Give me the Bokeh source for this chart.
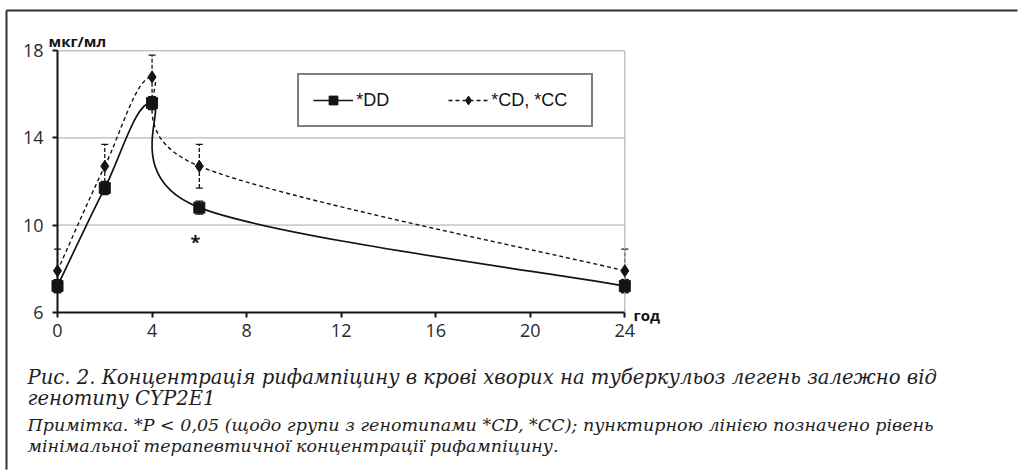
import numpy as np
from bokeh.plotting import figure
from bokeh.models import (Range1d, FixedTicker, Label, Legend, LegendItem, Whisker,
                          ColumnDataSource, TeeHead)
from bokeh.core.properties import value
from bokeh.embed import file_html
from bokeh.resources import INLINE

# ---------------- data ----------------
hours = [0, 2, 4, 6, 24]
dd_mean = [7.2, 11.7, 15.6, 10.8, 7.2]
dd_err = [0.3, 0.3, 0.3, 0.3, 0.3]
cd_mean = [7.9, 12.7, 16.8, 12.7, 7.9]
cd_err = [1.0, 1.0, 1.0, 1.0, 1.0]
x_ticks = [0, 4, 8, 12, 16, 20, 24]
y_ticks = [6, 10, 14, 18]
series_labels = ["*DD", "*CD, *CC"]
y_unit = "мкг/мл"
x_unit = "год"
signif_mark = "*"
caption_lines = ["Рис. 2. Концентрація рифампіцину в крові хворих на туберкульоз легень залежно від",
                 "генотипу CYP2E1"]
note_lines = ["Примітка. *P < 0,05 (щодо групи з генотипами *CD, *CC); пунктирною лінією позначено рівень",
              "мінімальної терапевтичної концентрації рифампіцину."]

# ---------------- layout (page pixel geometry) ----------------
OFF = 0                             # canvas offset on the page
W, H = 1018, 472
X_LO_PX, X_HI_PX = 57.0, 624.3     # page px of first / last x tick
Y_HI_PX, Y_LO_PX = 50.3, 311.7     # page px of top / bottom y tick
SX = (X_HI_PX - X_LO_PX) / (x_ticks[-1] - x_ticks[0])
SY = (Y_LO_PX - Y_HI_PX) / (y_ticks[-1] - y_ticks[0])
x0r = x_ticks[0] - (X_LO_PX - OFF) / SX
x1r = x_ticks[0] + (OFF + W - X_LO_PX) / SX
y1r = y_ticks[-1] + (Y_HI_PX - OFF) / SY
y0r = y_ticks[-1] - (OFF + H - Y_HI_PX) / SY


def px_x(page_x):
    return x_ticks[0] + (page_x - X_LO_PX) / SX


def px_y(page_y):
    return y_ticks[-1] - (page_y - Y_HI_PX) / SY


def smooth(xs, ys):
    P = np.column_stack([xs, ys]).astype(float)
    n = len(P)
    d = {k: [] for k in ("x0", "y0", "x1", "y1", "cx0", "cy0", "cx1", "cy1")}
    for i in range(n - 1):
        p0 = P[max(i - 1, 0)]
        p1 = P[i]
        p2 = P[i + 1]
        p3 = P[min(i + 2, n - 1)]
        c1 = p1 + (p2 - p0) / 6.0
        c2 = p2 - (p3 - p1) / 6.0
        d["x0"].append(p1[0]); d["y0"].append(p1[1])
        d["x1"].append(p2[0]); d["y1"].append(p2[1])
        d["cx0"].append(c1[0]); d["cy0"].append(c1[1])
        d["cx1"].append(c2[0]); d["cy1"].append(c2[1])
    return ColumnDataSource(d)


p = figure(frame_width=W, frame_height=H,
           min_border_left=0, min_border_top=0, min_border_right=0, min_border_bottom=0,
           x_range=Range1d(x0r, x1r), y_range=Range1d(y0r, y1r),
           output_backend="svg", toolbar_location=None)
p.outline_line_color = None
p.grid.visible = False
p.background_fill_color = "white"
p.border_fill_color = "white"

INK = "#141414"
GRID = "#a8a8a8"

# outer frame rule (top and left)
p.segment(x0=[px_x(6), px_x(6)], x1=[px_x(W - 1), px_x(6)],
          y0=[px_y(10), px_y(10)], y1=[px_y(10), px_y(469)],
          line_color="#333333", line_width=2)

# grid lines and right border of plot area
p.segment(x0=[x_ticks[0]] * (len(y_ticks) - 1), x1=[x_ticks[-1]] * (len(y_ticks) - 1),
          y0=y_ticks[1:], y1=y_ticks[1:], line_color=GRID, line_width=1)
p.segment(x0=[x_ticks[-1]], x1=[x_ticks[-1]], y0=[y_ticks[0]], y1=[y_ticks[-1]],
          line_color=GRID, line_width=1)

# axes, pinned at the data origin
p.xaxis.ticker = FixedTicker(ticks=x_ticks)
p.yaxis.ticker = FixedTicker(ticks=y_ticks)
p.xaxis.bounds = (x_ticks[0], x_ticks[-1])
p.yaxis.bounds = (y_ticks[0], y_ticks[-1])
p.xaxis.fixed_location = y_ticks[0]
p.yaxis.fixed_location = x_ticks[0]
for ax in p.axis:
    ax.axis_line_color = INK
    ax.axis_line_width = 2
    ax.major_tick_line_color = INK
    ax.major_tick_line_width = 2
    ax.major_tick_in = 0
    ax.major_tick_out = 5
    ax.minor_tick_line_color = None
    ax.major_label_text_font = "Open Sans"
    ax.major_label_text_font_size = "18px"
    ax.major_label_text_color = "#2a2a2a"
p.xaxis.major_label_standoff = 7
p.yaxis.major_label_standoff = 9

# CD / CC series (dashed)
cd_src = ColumnDataSource(dict(x=hours,
                               lo=[m - e for m, e in zip(cd_mean, cd_err)],
                               hi=[m + e for m, e in zip(cd_mean, cd_err)]))
p.add_layout(Whisker(base="x", lower="lo", upper="hi", source=cd_src,
                     line_color=INK, line_width=1.3, line_dash="4 2",
                     upper_head=TeeHead(size=7, line_color=INK, line_width=1.3),
                     lower_head=TeeHead(size=7, line_color=INK, line_width=1.3)))
cd_curve = p.bezier(x0="x0", y0="y0", x1="x1", y1="y1", cx0="cx0", cy0="cy0",
                    cx1="cx1", cy1="cy1", source=smooth(hours, cd_mean),
                    line_color=INK, line_width=1.4, line_dash="4 3")
cd_pts = p.scatter(hours, cd_mean, marker="diamond", size=12,
                   fill_color=INK, line_color=INK)

# DD series (solid)
dd_src = ColumnDataSource(dict(x=hours,
                               lo=[m - e for m, e in zip(dd_mean, dd_err)],
                               hi=[m + e for m, e in zip(dd_mean, dd_err)]))
p.add_layout(Whisker(base="x", lower="lo", upper="hi", source=dd_src,
                     line_color=INK, line_width=1.3,
                     upper_head=TeeHead(size=8, line_color=INK, line_width=1.3),
                     lower_head=TeeHead(size=8, line_color=INK, line_width=1.3)))
dd_curve = p.bezier(x0="x0", y0="y0", x1="x1", y1="y1", cx0="cx0", cy0="cy0",
                    cx1="cx1", cy1="cy1", source=smooth(hours, dd_mean),
                    line_color=INK, line_width=1.7)
dd_pts = p.scatter(hours, dd_mean, marker="square", size=11,
                   fill_color=INK, line_color=INK)

# significance mark
p.text(x=[hours[3]], y=[dd_mean[3]], text=[signif_mark], x_offset=-4, y_offset=34,
       text_font=value("Open Sans"), text_font_size="18px", text_font_style="bold",
       text_align="center", text_baseline="alphabetic", text_color=INK)

# legend (location relative to frame bottom-left = canvas bottom-left)
legend = Legend(items=[LegendItem(label=series_labels[0], renderers=[dd_curve, dd_pts]),
                       LegendItem(label=series_labels[1], renderers=[cd_curve, cd_pts])],
                location=(297.3 - OFF, OFF + H - 127.3), orientation="horizontal",
                padding=14, margin=0, spacing=6,
                glyph_width=40, glyph_height=22, label_height=22, label_width=86,
                label_standoff=3,
                label_text_font="Liberation Sans", label_text_font_size="18px",
                label_text_color=INK,
                border_line_color="#000000", border_line_width=2,
                background_fill_color="white", background_fill_alpha=1)
p.add_layout(legend)

# axis unit labels
p.add_layout(Label(x=px_x(48), y=px_y(40), text=y_unit, text_font="Open Sans",
                   text_font_size="15px", text_font_style="bold", text_color=INK,
                   text_baseline="alphabetic"))
p.add_layout(Label(x=px_x(633), y=px_y(314), text=x_unit, text_font="Open Sans",
                   text_font_size="15px", text_font_style="bold", text_color=INK,
                   text_baseline="alphabetic"))

# caption and note
for txt, base in zip(caption_lines, [377, 398]):
    p.add_layout(Label(x=px_x(27), y=px_y(base), text=txt, text_font="DejaVu Serif",
                       text_font_size="19.6px", text_font_style="italic",
                       text_color="#1e1e1e", text_baseline="alphabetic"))
for txt, base in zip(note_lines, [424, 445]):
    p.add_layout(Label(x=px_x(27), y=px_y(base), text=txt, text_font="DejaVu Serif",
                       text_font_size="17.5px", text_font_style="italic",
                       text_color="#1e1e1e", text_baseline="alphabetic"))

open("out.html", "w").write(file_html(p, INLINE))
